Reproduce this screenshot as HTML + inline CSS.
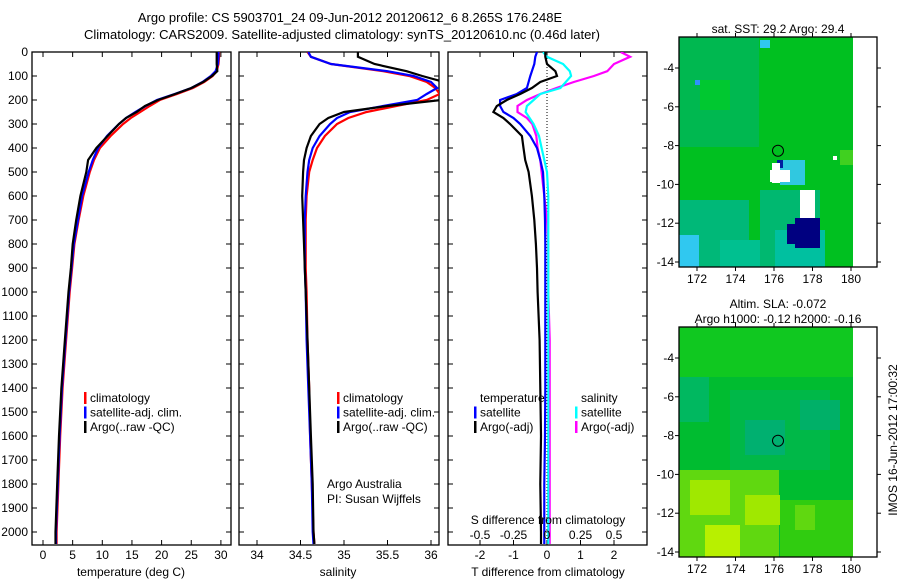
<!DOCTYPE html>
<html><head><meta charset="utf-8"><style>
body{margin:0;background:#fff;}
svg{display:block;font-family:"Liberation Sans",sans-serif;font-size:12px;}
</style></head><body>
<svg id="fig" width="900" height="580" viewBox="0 0 900 580">
<defs>
<clipPath id="c1"><rect x="32" y="52" width="199" height="493"/></clipPath>
<clipPath id="c2"><rect x="239" y="52" width="200" height="493"/></clipPath>
<clipPath id="c3"><rect x="448" y="52" width="199" height="493"/></clipPath>
</defs>
<text x="350" y="22" text-anchor="middle" font-size="13">Argo profile: CS 5903701_24 09-Jun-2012 20120612_6 8.265S 176.248E</text>
<text x="342" y="39" text-anchor="middle" font-size="13">Climatology: CARS2009. Satellite-adjusted climatology: synTS_20120610.nc (0.46d later)</text>
<g id="p1"></g>
<g id="p2"></g>
<g id="p3"></g>
<g id="m1"></g>
<g id="m2"></g>
<text transform="translate(897,440) rotate(-90)" text-anchor="middle" font-size="12">IMOS 16-Jun-2012 17:00:32</text>
</svg>
<script>
const depths=[0,20,50,80,100,125,150,175,200,225,250,275,300,350,400,450,500,600,700,800,900,1000,1200,1400,1600,1800,2000,2050];
const tClim=[29.7,29.7,29.6,29.3,28.6,27.2,25.3,22.6,19.7,18.0,16.4,14.8,13.5,11.4,9.6,8.6,7.9,6.8,6.0,5.3,4.9,4.5,3.9,3.3,2.9,2.6,2.3,2.3];
const tSat=[29.6,29.6,29.5,29.1,28.3,26.9,25.0,22.2,19.2,17.3,15.6,14.0,12.8,10.8,9.3,8.4,7.7,6.6,5.9,5.2,4.8,4.4,3.8,3.2,2.8,2.5,2.2,2.2];
const tArgo=[29.3,29.3,29.3,29.4,28.5,27.0,25.0,22.3,19.4,17.2,15.8,14.0,12.8,10.9,9.0,7.6,7.3,6.3,5.6,5.0,4.7,4.3,3.7,3.1,2.7,2.4,2.1,2.1];
const sClim=[34.58,34.62,34.85,35.45,35.75,35.95,36.05,36.1,35.95,35.6,35.26,35.05,34.92,34.78,34.69,34.64,34.6,34.57,34.56,34.56,34.56,34.57,34.58,34.6,34.61,34.63,34.65,34.66];
const sSat=[34.59,34.62,34.85,35.5,35.8,36.0,36.07,35.95,35.84,35.45,35.07,34.92,34.84,34.72,34.64,34.6,34.58,34.56,34.55,34.55,34.55,34.56,34.57,34.59,34.61,34.63,34.64,34.65];
const sArgo=[35.16,35.16,35.35,35.72,35.9,36.15,36.15,36.15,36.12,35.5,35.0,34.82,34.72,34.62,34.57,34.54,34.53,34.52,34.53,34.54,34.55,34.56,34.58,34.6,34.62,34.64,34.65,34.66];
const dTSat=[-0.3,-0.35,-0.38,-0.45,-0.5,-0.55,-0.6,-0.9,-1.4,-1.4,-1.3,-1.0,-0.8,-0.5,-0.3,-0.2,-0.12,-0.08,-0.06,-0.05,-0.05,-0.05,-0.05,-0.05,-0.06,-0.08,-0.08,-0.08];
const dTArgo=[-0.05,-0.05,0.0,0.25,0.3,-0.2,-0.45,-0.8,-1.2,-1.5,-1.6,-1.3,-1.1,-0.75,-0.7,-0.65,-0.55,-0.45,-0.38,-0.33,-0.3,-0.28,-0.22,-0.2,-0.18,-0.2,-0.18,-0.18];
const dSSat=[-0.03,0.0,0.12,0.17,0.18,0.14,0.1,-0.05,-0.1,-0.15,-0.16,-0.13,-0.1,-0.06,-0.04,-0.02,0.0,0.01,0.01,0.01,0.01,0.01,0.01,0.01,0.01,0.01,0.01,0.01];
const dSArgo=[0.55,0.62,0.5,0.45,0.35,0.2,0.07,-0.05,-0.15,-0.22,-0.22,-0.15,-0.11,-0.08,-0.07,-0.05,-0.04,-0.02,0,0.01,0.01,0.01,0.02,0.02,0.02,0.02,0.02,0.02];
const depthTicks=[0,100,200,300,400,500,600,700,800,900,1000,1100,1200,1300,1400,1500,1600,1700,1800,1900,2000];
const tTicks=[0,5,10,15,20,25,30];
const sTicks=[34,34.5,35,35.5,36];
const dTTicks=[-2,-1,0,1,2];
const dSTicks=[-0.5,-0.25,0,0.25,0.5];
const lonTicks=[172,174,176,178,180];
const latTicks=[-4,-6,-8,-10,-12,-14];

const NS='http://www.w3.org/2000/svg';
function mk(parent,tag,attrs){const e=document.createElementNS(NS,tag);for(const k in attrs)e.setAttribute(k,attrs[k]);parent.appendChild(e);return e;}
const yD=d=>52+d*0.24;
const xT=v=>43+v*5.93;
const xS=v=>257+(v-34)*87;
const xDT=v=>547+v*33.5;
const xDS=v=>547+v*134;

function frame(g,x0,x1,y0,y1){
  const r=mk(g,'rect',{x:x0,y:y0,width:x1-x0,height:y1-y0,fill:'none',stroke:'#000','stroke-width':1.3});
  
  
}
function xticks(g,ticks,fx,labels,y0,y1,ly,topToo){
  ticks.forEach((t,i)=>{
    const x=fx(t);
    const l=mk(g,'line',{x1:x,x2:x,y1:y1,y2:y1-5,stroke:'#000'});
    
    
    if(topToo){const l2=mk(g,'line',{x1:x,x2:x,y1:y0,y2:y0+5,stroke:'#000'});
      
      }
    if(labels){const tx=mk(g,'text',{x:x,y:ly,'text-anchor':'middle'});tx.textContent=labels[i];
      
      }
  });
}
function yticks(g,x0,x1,label){
  depthTicks.forEach(d=>{
    const y=yD(d);
    const a=mk(g,'line',{x1:x0,x2:x0+5,y1:y,y2:y,stroke:'#000'});
    
    
    const b=mk(g,'line',{x1:x1,x2:x1-5,y1:y,y2:y,stroke:'#000'});
    
    
    if(label){const t=mk(g,'text',{x:28,y:y+4,'text-anchor':'end'});t.textContent=d;
      
      }
  });
}
function line(g,vals,fx,color,clip,name){
  const pts=vals.map((v,i)=>fx(v).toFixed(1)+','+yD(depths[i]).toFixed(1)).join(' ');
  const p=mk(g,'polyline',{points:pts,fill:'none',stroke:color,'stroke-width':2.2,'clip-path':'url(#'+clip+')'});
  
  
}
function legend(g,x,y,items){
  items.forEach((it,i)=>{
    const yy=y+i*14.5;
    if(it[0]){const r=mk(g,'rect',{x:x,y:yy-10,width:2.5,height:12,fill:it[0]});
      
      }
    const t=mk(g,'text',{x:x+6,y:yy});t.textContent=it[1];
    
    
  });
}
function txt(g,x,y,s,anchor,name){const t=mk(g,'text',{x:x,y:y,'text-anchor':anchor||'start'});t.textContent=s;
  
  return t;}

// panel 1
const p1=document.getElementById('p1');
frame(p1,32,231,52,545);yticks(p1,32,231,true);
xticks(p1,tTicks,xT,tTicks,52,545,559,true);
line(p1,tClim,xT,'#ff0000','c1','temperature-climatology-line');
line(p1,tSat,xT,'#0000ff','c1','temperature-satellite-line');
line(p1,tArgo,xT,'#000000','c1','temperature-argo-line');
legend(p1,84,402,[['#ff0000','climatology'],['#0000ff','satellite-adj. clim.'],['#000','Argo(..raw -QC)']]);
txt(p1,131,576,'temperature (deg C)','middle','temperature-axis-title');

// panel 2
const p2=document.getElementById('p2');
frame(p2,239,439,52,545);yticks(p2,239,439,false);
xticks(p2,sTicks,xS,sTicks,52,545,559,true);
line(p2,sClim,xS,'#ff0000','c2','salinity-climatology-line');
line(p2,sSat,xS,'#0000ff','c2','salinity-satellite-line');
line(p2,sArgo,xS,'#000000','c2','salinity-argo-line');
legend(p2,337,402,[['#ff0000','climatology'],['#0000ff','satellite-adj. clim.'],['#000','Argo(..raw -QC)']]);
txt(p2,327,488,'Argo Australia','start','credit-line-1');
txt(p2,327,503,'PI: Susan Wijffels','start','credit-line-2');
txt(p2,338,576,'salinity','middle','salinity-axis-title');

// panel 3
const p3=document.getElementById('p3');
frame(p3,448,647,52,545);yticks(p3,448,647,false);
const z=mk(p3,'line',{x1:547,x2:547,y1:52,y2:545,stroke:'#000','stroke-dasharray':'1,2'});


xticks(p3,dTTicks,xDT,dTTicks,52,545,559,true);
line(p3,dSArgo,xDS,'#ff00ff','c3','salinity-argo-diff-line');
line(p3,dSSat,xDS,'#00ffff','c3','salinity-satellite-diff-line');
line(p3,dTSat,xDT,'#0000ff','c3','temperature-satellite-diff-line');
line(p3,dTArgo,xDT,'#000000','c3','temperature-argo-diff-line');
legend(p3,474,402,[[null,'temperature'],['#0000ff','satellite'],['#000','Argo(-adj)']]);
legend(p3,575,402,[[null,'salinity'],['#00ffff','satellite'],['#ff00ff','Argo(-adj)']]);
txt(p3,548,524,'S difference from climatology','middle','s-diff-axis-title');
dSTicks.forEach(v=>txt(p3,xDS(v),539,String(v),'middle','s-diff-tick-label'));
txt(p3,548,576,'T difference from climatology','middle','t-diff-axis-title');

// maps
function map(gid,y0,y1,latTop,latPxTop,pxPerLat,title,cells,base){
  const g=document.getElementById(gid);
  const x0=679,x1=877,dx1=853;
  const r=mk(g,'rect',{x:x0,y:y0,width:dx1-x0,height:y1-y0,fill:base});
  
  
  cells.forEach(c=>{const e=mk(g,'rect',{x:c[0],y:c[1],width:c[2],height:c[3],fill:c[4]});
    
    });
  frame(g,x0,x1,y0,y1);
  const fx=l=>697+(l-172)*19.25;
  lonTicks.forEach(l=>{
    const a=mk(g,'line',{x1:fx(l),x2:fx(l),y1:y1,y2:y1+4,stroke:'#000'});
    
    const b=mk(g,'line',{x1:fx(l),x2:fx(l),y1:y0,y2:y0-4,stroke:'#000'});
    
    txt(g,fx(l),y1+16,String(l),'middle','lon-tick-label');
  });
  latTicks.forEach(l=>{
    const y=latPxTop+(-4-l)*pxPerLat;
    const a=mk(g,'line',{x1:x1,x2:x1+4,y1:y,y2:y,stroke:'#000'});
    
    const b=mk(g,'line',{x1:x0,x2:x0-4,y1:y,y2:y,stroke:'#000'});
    
    txt(g,x0-5,y+4,String(l),'end','lat-tick-label');
  });
  const c=mk(g,'circle',{cx:778,cy:latPxTop+(8.265-4)*pxPerLat,r:5.5,fill:'none',stroke:'#000'});
  
  
  title.forEach((t,i)=>txt(g,778,y0-(title.length-i)*15+11,t,'middle','map-title'));
}
map('m1',37,267,-4,68,19.4,['sat. SST: 29.2 Argo: 29.4'],[
 [679,37,80,110,'#00b850'],[700,80,30,30,'#00c830'],[679,200,70,67,'#00b878'],[679,235,20,32,'#30c8f0'],
 [760,190,60,77,'#00b870'],[775,230,50,37,'#00c0a0'],[720,240,40,27,'#00c090'],
 [780,160,25,25,'#30c8e0'],[777,160,6,8,'#0020a0'],[772,163,8,20,'#ffffff'],[770,170,20,12,'#ffffff'],
 [800,190,15,20,'#ffffff'],[800,210,15,17,'#ffffff'],[795,218,25,30,'#000080'],[787,224,12,20,'#000080'],
 [840,150,13,15,'#40d020'],[833,156,4,4,'#ffffff'],[760,40,10,8,'#30c8f0'],[695,80,5,5,'#3090ff']
],'#00c020');
map('m2',327,557,-4,358,19.4,['Altim. SLA: -0.072','Argo h1000: -0.12 h2000: -0.16'],[
 [679,327,174,50,'#10c820'],[679,377,30,45,'#00b860'],[730,390,100,80,'#00b848'],
 [745,420,40,35,'#00b070'],[800,400,40,30,'#00b068'],
 [679,470,100,87,'#60d810'],[690,480,40,35,'#a0e800'],[705,525,35,32,'#b8f000'],[745,495,35,30,'#a0e800'],
 [780,500,73,57,'#30cc10'],[795,505,20,25,'#60d810']
],'#00bc30');
</script>
</body></html>
